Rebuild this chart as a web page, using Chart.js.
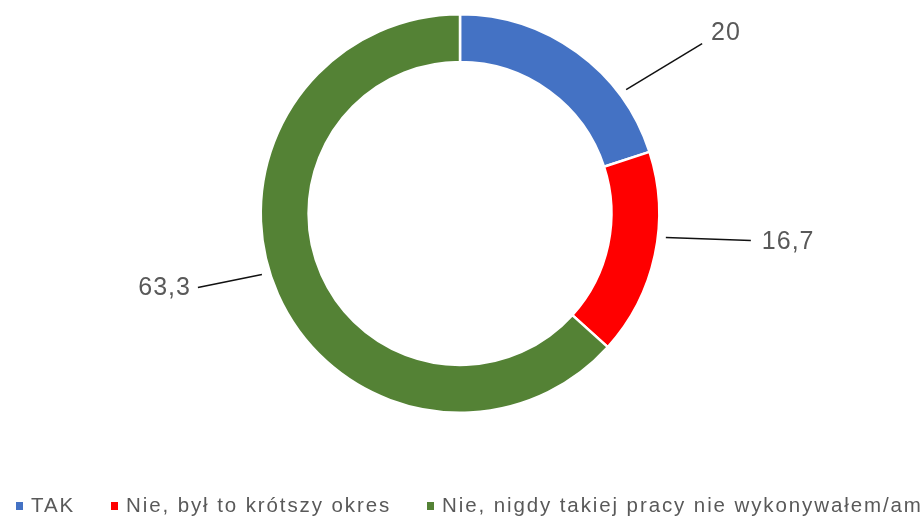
<!DOCTYPE html>
<html>
<head>
  <meta charset="utf-8">
  <title>index</title>
  <script src="https://cdn.jsdelivr.net/npm/chart.js"></script>
  <style>
    html, body { margin: 0; padding: 0; background: #fff; }
    #wrap { width: 923px; height: 517px; }
  </style>
</head>
<body>
  <div id="wrap"><canvas id="chart" width="923" height="517"></canvas></div>

  <script>
    const categories = ['TAK', 'Nie, był to krótszy okres', 'Nie, nigdy takiej pracy nie wykonywałem/am'];
    const values = [20, 16.7, 63.3];
    const valueLabels = ['20', '16,7', '63,3'];
    const colors = ['#4472c4', '#ff0000', '#548235'];

    // where each leader line leaves the ring (fraction along the slice) and where it ends
    const callouts = [
      { at: 0.74, dx: 76, dy: -46, tx: 9, ty: -10, align: 'left' },
      { at: 0.41, dx: 85, dy: 3, tx: 11, ty: 2, align: 'left' },
      { at: 0.53, dx: -64, dy: 13, tx: -7, ty: 1, align: 'right' }
    ];

    const calloutPlugin = {
      id: 'callouts',
      afterDatasetsDraw(chart) {
        const ctx = chart.ctx;
        const arcs = chart.getDatasetMeta(0).data;
        ctx.save();
        arcs.forEach((arc, i) => {
          const { x, y, startAngle, endAngle, outerRadius } =
            arc.getProps(['x', 'y', 'startAngle', 'endAngle', 'outerRadius'], true);
          const c = callouts[i];
          const a = startAngle + (endAngle - startAngle) * c.at;
          const r = outerRadius + 8;
          const x0 = x + Math.cos(a) * r;
          const y0 = y + Math.sin(a) * r;
          const x1 = x0 + c.dx;
          const y1 = y0 + c.dy;
          ctx.strokeStyle = '#111';
          ctx.lineWidth = 1.5;
          ctx.beginPath();
          ctx.moveTo(x0, y0);
          ctx.lineTo(x1, y1);
          ctx.stroke();
          ctx.fillStyle = '#595959';
          ctx.font = '25px "Liberation Sans", Arial, sans-serif';
          ctx.letterSpacing = '1px';
          ctx.textAlign = c.align;
          ctx.textBaseline = 'middle';
          ctx.fillText(valueLabels[i], x1 + c.tx, y1 + c.ty);
        });
        ctx.restore();
      }
    };

    // single-row legend along the bottom, allowed to run off the right edge
    const legendPlugin = {
      id: 'bottomLegend',
      afterDraw(chart) {
        const ctx = chart.ctx;
        const y = 506;
        const starts = [16, 111, 427];
        ctx.save();
        ctx.font = '20.5px "Liberation Sans", Arial, sans-serif';
        ctx.letterSpacing = '1.9px';
        ctx.textAlign = 'left';
        ctx.textBaseline = 'middle';
        categories.forEach((name, i) => {
          ctx.fillStyle = colors[i];
          ctx.fillRect(starts[i], y - 4, 7, 8);
          ctx.fillStyle = '#595959';
          ctx.fillText(name, starts[i] + 15, y);
        });
        ctx.restore();
      }
    };

    new Chart(document.getElementById('chart'), {
      type: 'doughnut',
      data: {
        labels: categories,
        datasets: [{
          data: values,
          backgroundColor: colors,
          borderColor: '#fff',
          borderWidth: 2.5
        }]
      },
      options: {
        responsive: false,
        animation: false,
        cutout: '76%',
        layout: { padding: { top: 13, bottom: 103, left: 0, right: 3 } },
        plugins: {
          legend: { display: false },
          tooltip: { enabled: false }
        }
      },
      plugins: [calloutPlugin, legendPlugin]
    });
  </script>
</body>
</html>
